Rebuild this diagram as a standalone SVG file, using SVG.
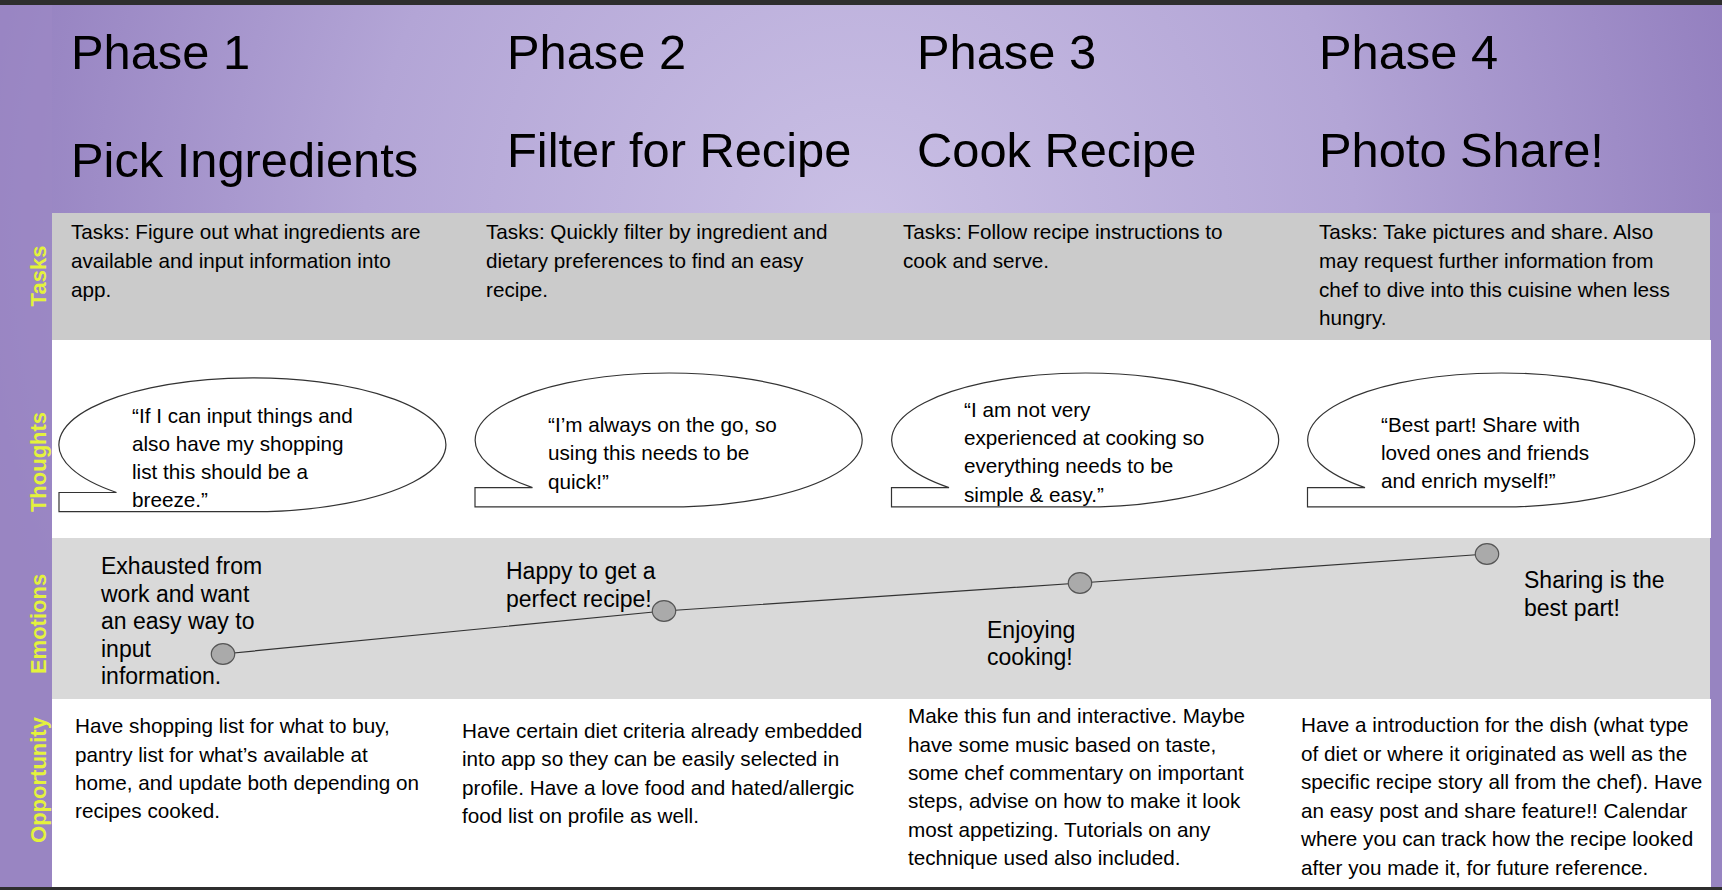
<svg xmlns="http://www.w3.org/2000/svg" width="1722" height="890" viewBox="0 0 1722 890">
<defs>
<radialGradient id="bg" gradientUnits="userSpaceOnUse" cx="860" cy="230" r="900">
<stop offset="0" stop-color="#cac0e5"/>
<stop offset="0.55" stop-color="#b3a5d6"/>
<stop offset="1" stop-color="#937fbf"/>
</radialGradient>
<style>
text{font-family:"Liberation Sans",Arial,sans-serif;fill:#000}
.h{font-size:48.8px}
.b{font-size:20.7px}
.e{font-size:23px}
.lab{font-size:22px;font-weight:bold;fill:#e4f23c;text-anchor:middle}
.bub{fill:#fff;stroke:#333;stroke-width:1.2}
.dot{fill:#aaa;stroke:#555;stroke-width:1.2}
.ln{fill:none;stroke:#333;stroke-width:1.2}
</style>
</defs>
<rect x="0" y="0" width="1722" height="890" fill="url(#bg)"/>
<rect x="0" y="0" width="52" height="890" fill="#9c89c5" opacity="0.6"/>
<rect x="1710" y="213" width="12" height="677" fill="#9a87c3" opacity="0.6"/>
<rect x="0" y="0" width="1722" height="5" fill="#2e2e2e"/>
<rect x="0" y="887" width="1722" height="3" fill="#2e2e2e"/>

<g id="bands">
<rect x="52" y="213" width="1658" height="127" fill="#cbcbcb"/>
<rect x="52" y="340" width="1659" height="198" fill="#fff"/>
<rect x="52" y="538" width="1658" height="161" fill="#d9d9d9"/>
<rect x="52" y="699" width="1659" height="188" fill="#fff"/>
</g>

<g id="row-labels">
<text class="lab" transform="translate(46,276) rotate(-90)">Tasks</text>
<text class="lab" transform="translate(46,462) rotate(-90)">Thoughts</text>
<text class="lab" transform="translate(46,624) rotate(-90)">Emotions</text>
<text class="lab" transform="translate(46,780) rotate(-90)">Opportunity</text>
</g>

<g id="phase1">
<text class="h" x="71" y="69">Phase 1</text>
<text class="h" x="71" y="177">Pick Ingredients</text>
<text class="b" x="71" y="239">Tasks: Figure out what ingredients are</text>
<text class="b" x="71" y="268">available and input information into</text>
<text class="b" x="71" y="297">app.</text>
</g>
<g id="phase2">
<text class="h" x="507" y="69">Phase 2</text>
<text class="h" x="507" y="167">Filter for Recipe</text>
<text class="b" x="486" y="239">Tasks: Quickly filter by ingredient and</text>
<text class="b" x="486" y="268">dietary preferences to find an easy</text>
<text class="b" x="486" y="297">recipe.</text>
</g>
<g id="phase3">
<text class="h" x="917" y="69">Phase 3</text>
<text class="h" x="917" y="167">Cook Recipe</text>
<text class="b" x="903" y="239">Tasks: Follow recipe instructions to</text>
<text class="b" x="903" y="268">cook and serve.</text>
</g>
<g id="phase4">
<text class="h" x="1319" y="69">Phase 4</text>
<text class="h" x="1319" y="167">Photo Share!</text>
<text class="b" x="1319" y="239">Tasks: Take pictures and share. Also</text>
<text class="b" x="1319" y="268">may request further information from</text>
<text class="b" x="1319" y="297">chef to dive into this cuisine when less</text>
<text class="b" x="1319" y="325">hungry.</text>
</g>

<g id="thought1">
<path class="bub" d="M116.5 492.5 A193.5 67 0 1 1 267.5 511.6 L59 511.6 L59 492.5 Z"/>
<text class="b" x="132" y="423">“If I can input things and</text>
<text class="b" x="132" y="451">also have my shopping</text>
<text class="b" x="132" y="479">list this should be a</text>
<text class="b" x="132" y="507">breeze.”</text>
</g>
<g id="thought2">
<path class="bub" d="M532.5 487.6 A193.5 67 0 1 1 683.5 506.8 L475 506.8 L475 487.6 Z"/>
<text class="b" x="548" y="432">“I’m always on the go, so</text>
<text class="b" x="548" y="460">using this needs to be</text>
<text class="b" x="548" y="488.5">quick!”</text>
</g>
<g id="thought3">
<path class="bub" d="M949 487.6 A193.5 67 0 1 1 1100 506.8 L891.5 506.8 L891.5 487.6 Z"/>
<text class="b" x="964" y="417">“I am not very</text>
<text class="b" x="964" y="445">experienced at cooking so</text>
<text class="b" x="964" y="473">everything needs to be</text>
<text class="b" x="964" y="502">simple &amp; easy.”</text>
</g>
<g id="thought4">
<path class="bub" d="M1365 487.6 A193.5 67 0 1 1 1516 506.8 L1307.5 506.8 L1307.5 487.6 Z"/>
<text class="b" x="1381" y="432">“Best part! Share with</text>
<text class="b" x="1381" y="460">loved ones and friends</text>
<text class="b" x="1381" y="488">and enrich myself!”</text>
</g>

<g id="connectors">
<polyline class="ln" points="223,654 664,611 1080,583 1487,554"/>
</g>

<g id="emotion1">
<ellipse class="dot" cx="223" cy="654" rx="11.7" ry="10.3"/>
<text class="e" x="101" y="574">Exhausted from</text>
<text class="e" x="101" y="602">work and want</text>
<text class="e" x="101" y="629">an easy way to</text>
<text class="e" x="101" y="657">input</text>
<text class="e" x="101" y="684">information.</text>
</g>
<g id="emotion2">
<ellipse class="dot" cx="664" cy="611" rx="11.7" ry="10.3"/>
<text class="e" x="506" y="579">Happy to get a</text>
<text class="e" x="506" y="607">perfect recipe!</text>
</g>
<g id="emotion3">
<ellipse class="dot" cx="1080" cy="583" rx="11.7" ry="10.3"/>
<text class="e" x="987" y="638">Enjoying</text>
<text class="e" x="987" y="665">cooking!</text>
</g>
<g id="emotion4">
<ellipse class="dot" cx="1487" cy="554" rx="11.7" ry="10.3"/>
<text class="e" x="1524" y="588">Sharing is the</text>
<text class="e" x="1524" y="616">best part!</text>
</g>

<g id="opportunity1">
<text class="b" x="75" y="733">Have shopping list for what to buy,</text>
<text class="b" x="75" y="761.5">pantry list for what’s available at</text>
<text class="b" x="75" y="790">home, and update both depending on</text>
<text class="b" x="75" y="818">recipes cooked.</text>
</g>
<g id="opportunity2">
<text class="b" x="462" y="738">Have certain diet criteria already embedded</text>
<text class="b" x="462" y="766">into app so they can be easily selected in</text>
<text class="b" x="462" y="794.5">profile. Have a love food and hated/allergic</text>
<text class="b" x="462" y="823">food list on profile as well.</text>
</g>
<g id="opportunity3">
<text class="b" x="908" y="723">Make this fun and interactive. Maybe</text>
<text class="b" x="908" y="751.5">have some music based on taste,</text>
<text class="b" x="908" y="780">some chef commentary on important</text>
<text class="b" x="908" y="808">steps, advise on how to make it look</text>
<text class="b" x="908" y="836.5">most appetizing. Tutorials on any</text>
<text class="b" x="908" y="865">technique used also included.</text>
</g>
<g id="opportunity4">
<text class="b" x="1301" y="732">Have a introduction for the dish (what type</text>
<text class="b" x="1301" y="760.5">of diet or where it originated as well as the</text>
<text class="b" x="1301" y="789">specific recipe story all from the chef). Have</text>
<text class="b" x="1301" y="817.5">an easy post and share feature!! Calendar</text>
<text class="b" x="1301" y="846">where you can track how the recipe looked</text>
<text class="b" x="1301" y="874.5">after you made it, for future reference.</text>
</g>
</svg>
